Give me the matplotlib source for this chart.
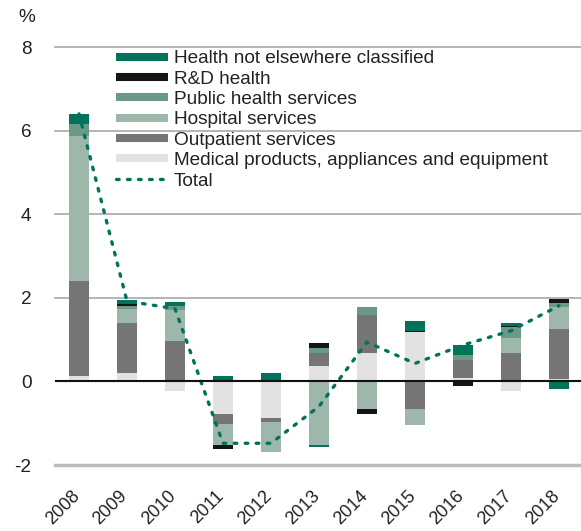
"""
Health expenditure growth contributions by function, 2008-2018.
Stacked bars with a dotted total line.
"""

import matplotlib
matplotlib.use("Agg")
import matplotlib.pyplot as plt
import matplotlib.transforms as mtransforms
from matplotlib.lines import Line2D
import numpy as np

plt.rcParams['font.family'] = ['Liberation Sans', 'DejaVu Sans']

# data (percentage points)
years = ['2008', '2009', '2010', '2011', '2012', '2013', '2014', '2015', '2016', '2017', '2018']

medical = [0.12, 0.19, -0.22, -0.79, -0.88, 0.36, 0.67, 1.17, 0.09, -0.22, 0.05]
outpatient = [2.28, 1.21, 0.97, -0.22, -0.10, 0.31, 0.91, -0.67, 0.43, 0.67, 1.20]
hospital = [3.47, 0.33, 0.74, -0.50, -0.72, -1.53, -0.67, -0.38, 0.00, 0.36, 0.53]
public_health = [0.29, 0.07, 0.10, 0.00, 0.00, 0.12, 0.19, 0.00, 0.10, 0.26, 0.10]
rnd_health = [0.00, 0.05, 0.00, -0.10, 0.02, 0.12, -0.10, 0.03, -0.10, 0.03, 0.10]
not_classified = [0.24, 0.09, 0.08, 0.12, 0.17, -0.03, -0.02, 0.24, 0.24, 0.07, -0.19]
total = [6.40, 1.92, 1.74, -1.48, -1.48, -0.60, 0.94, 0.43, 0.87, 1.21, 1.81]

# stacking order, bottom to top
series = [
    ('Medical products, appliances and equipment', medical, '#e2e2e2'),
    ('Outpatient services', outpatient, '#757575'),
    ('Hospital services', hospital, '#9db8aa'),
    ('Public health services', public_health, '#6a9a86'),
    ('R&D health', rnd_health, '#151515'),
    ('Health not elsewhere classified', not_classified, '#00735a'),
]
total_color = '#00735a'
text_color = '#222222'
fs = 13.7

W, H = 581, 531
fig = plt.figure(figsize=(W / 100, H / 100), dpi=100)
ax = fig.add_axes([55 / W, 1 - 465 / H, 1 - 55 / W, (465 - 47) / H])

x = np.arange(len(years))
pos_bottom = np.zeros(len(years))
neg_bottom = np.zeros(len(years))
for name, vals, color in series:
    vals = np.array(vals)
    pos = np.where(vals > 0, vals, 0)
    neg = np.where(vals < 0, vals, 0)
    ax.bar(x, pos, bottom=pos_bottom, width=0.42, color=color, zorder=2)
    ax.bar(x, neg, bottom=neg_bottom, width=0.42, color=color, zorder=2)
    pos_bottom += pos
    neg_bottom += neg

ax.plot(x, total, color=total_color, lw=2.4, linestyle=(0, (0.8, 2.5)),
        dash_capstyle='round', zorder=3)

# gridlines
for yv in [2, 4, 6, 8]:
    ax.axhline(yv, color='#a8a8a8', lw=1.2, zorder=1, clip_on=False)
ax.axhline(0, color='#111111', lw=1.5, zorder=4)
ax.axhline(-2, color='#bdbdbd', lw=2.5, zorder=1, clip_on=False)

ax.set_xlim(-0.5, 10.46)
ax.set_ylim(-2, 8)
for s in ax.spines.values():
    s.set_visible(False)

ax.set_yticks([-2, 0, 2, 4, 6, 8])
ax.set_yticklabels(['-2', '0', '2', '4', '6', '8'])
ax.tick_params(axis='y', length=0, pad=17, labelsize=fs, labelcolor=text_color)
ax.set_xticks(x)
ax.set_xticklabels(years, rotation=45, ha='right', va='center', rotation_mode='anchor')
ax.tick_params(axis='x', length=0, pad=20.5, labelsize=13, labelcolor=text_color)
shift = mtransforms.ScaledTranslation(-2 / 100, 0, fig.dpi_scale_trans)
for lab in ax.get_xticklabels():
    lab.set_transform(lab.get_transform() + shift)

fig.text(27 / W, 1 - 18 / H, '%', ha='center', va='center', fontsize=fs, color=text_color)

# legend, top entry first
handles = []
labels = []
for name, vals, color in reversed(series):
    handles.append(Line2D([0], [0], color=color, lw=5.8, solid_capstyle='butt'))
    labels.append(name)
handles.append(Line2D([0], [0], color=total_color, lw=2.4, linestyle=(0, (0.8, 2.5)),
                      dash_capstyle='round'))
labels.append('Total')
leg = ax.legend(handles, labels, loc='upper left', bbox_to_anchor=(116 / W, 1 - 50 / H),
                bbox_transform=fig.transFigure, frameon=False, fontsize=fs,
                borderpad=0, borderaxespad=0, handlelength=2.75, handletextpad=0.28,
                labelspacing=0.16)
for t in leg.get_texts():
    t.set_color(text_color)

fig.savefig('out.png', dpi=100)
